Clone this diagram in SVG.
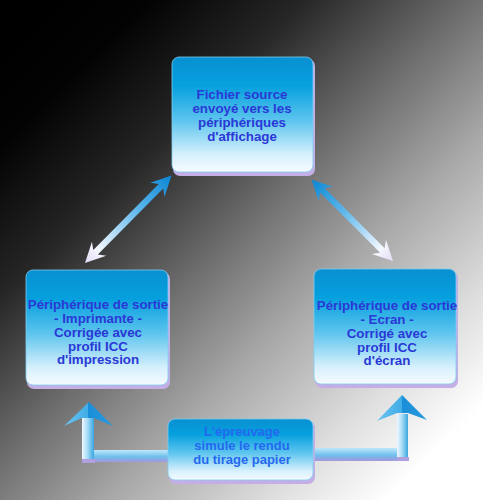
<svg xmlns="http://www.w3.org/2000/svg" width="483" height="500" viewBox="0 0 483 500">
<defs>
<linearGradient id="bg" gradientUnits="userSpaceOnUse" x1="30" y1="30" x2="470" y2="480">
<stop offset="0" stop-color="#000"/>
<stop offset="0.1" stop-color="#030303"/>
<stop offset="0.27" stop-color="#262626"/>
<stop offset="0.47" stop-color="#727272"/>
<stop offset="0.62" stop-color="#a8a8a8"/>
<stop offset="0.8" stop-color="#dedede"/>
<stop offset="0.93" stop-color="#ffffff"/>
</linearGradient>
<linearGradient id="boxg" x1="0" y1="0" x2="0" y2="1">
<stop offset="0" stop-color="#0890d2"/>
<stop offset="0.25" stop-color="#06a0de"/>
<stop offset="0.55" stop-color="#5cc4ee"/>
<stop offset="0.85" stop-color="#d6f0fc"/>
<stop offset="1" stop-color="#f6fbff"/>
</linearGradient>
<linearGradient id="diag" x1="0" y1="0" x2="1" y2="0">
<stop offset="0" stop-color="#e4d8f6"/>
<stop offset="0.15" stop-color="#f4f8ff"/>
<stop offset="0.6" stop-color="#60b8ec"/>
<stop offset="1" stop-color="#0a86d4"/>
</linearGradient>
<linearGradient id="vshaft" x1="0" y1="0" x2="1" y2="0">
<stop offset="0" stop-color="#f0f8ff"/>
<stop offset="0.45" stop-color="#a8dcf6"/>
<stop offset="1" stop-color="#3aa6e0"/>
</linearGradient>
<linearGradient id="hbar" x1="0" y1="0" x2="0" y2="1">
<stop offset="0" stop-color="#bfe8fb"/>
<stop offset="0.55" stop-color="#70c0ec"/>
<stop offset="0.8" stop-color="#88a8e4"/>
<stop offset="1" stop-color="#a898dc"/>
</linearGradient>
<linearGradient id="head" x1="0" y1="0" x2="1" y2="0">
<stop offset="0" stop-color="#6cc4f0"/>
<stop offset="0.5" stop-color="#40ace6"/>
<stop offset="0.5" stop-color="#1a8ed8"/>
<stop offset="1" stop-color="#2a9ade"/>
</linearGradient>
<style>
.shadow{fill:#c4aee6}
.box{fill:url(#boxg);stroke:#7fcdf0;stroke-width:0.8}
.t{font-family:"Liberation Sans",Arial,sans-serif;font-weight:bold;font-size:13.3px;fill:#2a38d6;text-anchor:middle}
.t2{fill:#2468f0;font-size:13px}
.diag{fill:url(#diag)}
</style>
</defs>
<rect width="483" height="500" fill="url(#bg)"/>

<g id="connectors">
  <g transform="translate(85,263) rotate(-45.3)">
    <polygon class="diag" points="0,0 20,-10 15,-3.2 108,-3.2 103,-10 123,0 103,10 108,3.2 15,3.2 20,10"/>
  </g>
  <g transform="translate(393,261) rotate(-135)">
    <polygon class="diag" points="0,0 20,-10 15,-3.2 100,-3.2 95,-10 115,0 95,10 100,3.2 15,3.2 20,10"/>
  </g>
  <g id="arrow-left">
    <rect x="90" y="450" width="80" height="12" fill="url(#hbar)"/>
    <rect x="82" y="418" width="12" height="44" fill="url(#vshaft)"/>
    <rect x="82" y="459" width="13" height="4" fill="#b0a0e0"/>
    <polygon points="89,402 113,426 94,418 82,418 64,426" fill="url(#head)"/>
  </g>
  <g id="arrow-right">
    <rect x="312" y="448" width="88" height="13" fill="url(#hbar)"/>
    <rect x="397" y="414" width="11" height="47" fill="url(#vshaft)"/>
    <rect x="397" y="457" width="12" height="4" fill="#b0a0e0"/>
    <polygon points="402,395 427,420 408,413 397,413 377,421" fill="url(#head)"/>
  </g>
</g>

<g id="node-source">
  <rect class="shadow" x="173" y="59" width="142" height="117" rx="7"/>
  <rect class="box" x="172" y="57" width="141" height="115" rx="7"/>
  <text class="t" x="242" y="99">Fichier source<tspan x="242" dy="14">envoyé vers les</tspan><tspan x="242" dy="14">périphériques</tspan><tspan x="242" dy="13.5">d'affichage</tspan></text>
</g>

<g id="node-printer">
  <rect class="shadow" x="27" y="272" width="143" height="117" rx="7"/>
  <rect class="box" x="26" y="270" width="142" height="115" rx="7"/>
  <text class="t" x="98" y="309">Périphérique de sortie<tspan x="98" dy="14">- Imprimante -</tspan><tspan x="98" dy="14">Corrigée avec</tspan><tspan x="98" dy="13.5">profil ICC</tspan><tspan x="98" dy="13.8">d'impression</tspan></text>
</g>

<g id="node-screen">
  <rect class="shadow" x="315" y="271" width="143" height="117" rx="7"/>
  <rect class="box" x="314" y="269" width="142" height="115" rx="7"/>
  <text class="t" x="387" y="310">Périphérique de sortie<tspan x="387" dy="14">- Ecran -</tspan><tspan x="387" dy="14">Corrigé avec</tspan><tspan x="387" dy="13.5">profil ICC</tspan><tspan x="387" dy="13.8">d'écran</tspan></text>
</g>

<g id="node-proof">
  <rect class="shadow" x="169" y="421" width="146" height="63" rx="7"/>
  <rect class="box" x="168" y="419" width="145" height="61" rx="7"/>
  <text class="t t2" x="242" y="436">L'épreuvage<tspan x="242" dy="14">simule le rendu</tspan><tspan x="242" dy="14">du tirage papier</tspan></text>
</g>
</svg>
